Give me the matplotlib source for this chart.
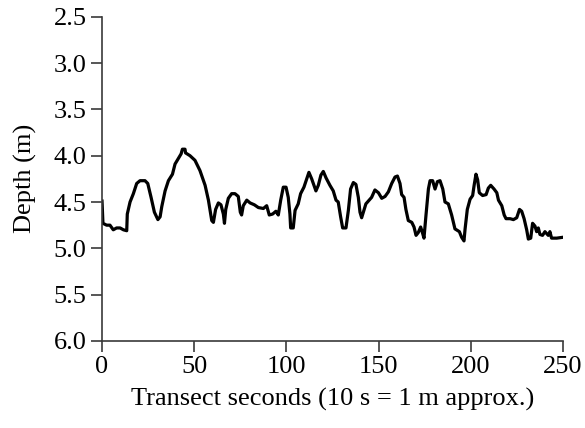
import matplotlib
matplotlib.use("Agg")
import matplotlib.pyplot as plt
import numpy as np

# transect profile
seconds = [0, 0.5, 2.5, 4.3, 6.1, 7.9, 9.8, 11.6, 13.4, 13.7, 15.2, 17, 18.8, 20.6, 23.3, 24.8,
           26.6, 28.4, 30.3, 31.5, 32.4, 34.2, 36.0, 38.2, 39.6, 41.4, 42.9, 43.6, 45.0, 45.3,
           47.7, 50.4, 53.1, 55.9, 57.7, 59.5, 60.4, 61.6, 63.1, 64.5, 65.8, 66.4, 67.1, 68.5,
           70.3, 72.1, 73.9, 75.0, 75.7, 76.6, 78.5, 80.3, 82.6,
           84.8, 87.5, 89.3, 90.7, 92.5, 94.3, 95.6, 96.9, 98.3, 99.8, 101.0, 101.9, 102.3,
           103.7, 104.7, 106.4, 107.7, 109.5, 111, 112.2, 113.7, 116.0, 117.3, 118.7, 120.0,
           121.5, 123.6, 125.4, 126.9, 128.1, 129.4, 130.5, 132.3, 133.6, 134.8, 136.3, 137.7,
           139.0, 139.9, 140.8, 141.7, 143.1, 144.9, 146.2, 148.0, 149.9, 151.7, 153.5, 155.3,
           157.1, 158.9, 160.2, 161.6, 162.5, 163.8, 164.8, 166.1, 168.0, 169.2, 170.3, 171.5,
           172.8, 173.9, 174.6, 175.7, 177.0, 177.9, 179.3, 180.6, 181.9, 183.3, 184.8, 186.0,
           187.8, 189.6, 191.4, 193.8, 195.0, 196.3, 196.9, 198.1, 199.6, 201.0, 201.8, 202.8,
           203.7, 204.6, 206.4, 208.3, 209.5, 210.8, 212.6, 214.1, 215.0, 216.8, 218.1, 219.1,
           221.3, 223.1, 224.9, 226.4, 227.6, 228.9, 230.3, 231.2, 232.5, 233.5, 234.8, 235.7,
           236.6, 237.5, 238.9, 240.2, 242.0, 242.9, 243.8, 246.6, 250.2]
depth = [4.49, 4.73, 4.75, 4.75, 4.80, 4.78, 4.78, 4.80, 4.81, 4.63, 4.50, 4.41, 4.30, 4.27, 4.27, 4.30,
         4.45, 4.61, 4.69, 4.66, 4.55, 4.38, 4.27, 4.20, 4.09, 4.03, 3.98, 3.93, 3.93, 3.97,
         4.00, 4.05, 4.16, 4.32, 4.48, 4.70, 4.72, 4.58, 4.51, 4.53, 4.63, 4.73, 4.58, 4.46,
         4.41, 4.41, 4.44, 4.61, 4.64, 4.54, 4.48, 4.51, 4.53,
         4.56, 4.57, 4.54, 4.64, 4.63, 4.60, 4.64, 4.48, 4.34, 4.34, 4.45, 4.63, 4.78,
         4.78, 4.59, 4.52, 4.41, 4.34, 4.25, 4.18, 4.25, 4.38, 4.32, 4.21, 4.17,
         4.24, 4.32, 4.38, 4.48, 4.50, 4.66, 4.78, 4.78, 4.59, 4.36, 4.29, 4.31,
         4.45, 4.61, 4.67, 4.61, 4.52, 4.48, 4.45, 4.37, 4.40, 4.46, 4.44, 4.39,
         4.30, 4.23, 4.22, 4.30, 4.42, 4.45, 4.58, 4.70, 4.72, 4.77, 4.86, 4.83,
         4.77, 4.84, 4.89, 4.64, 4.36, 4.27, 4.27, 4.36, 4.28, 4.27, 4.36, 4.50,
         4.52, 4.64, 4.79, 4.82, 4.88, 4.92, 4.79, 4.58, 4.47, 4.43, 4.32, 4.20,
         4.26, 4.40, 4.43, 4.42, 4.35, 4.32, 4.36, 4.40, 4.48, 4.54, 4.64, 4.68,
         4.68, 4.69, 4.67, 4.58, 4.60, 4.68, 4.80, 4.90, 4.89, 4.73, 4.76, 4.82,
         4.78, 4.85, 4.86, 4.82, 4.86, 4.82, 4.89, 4.89, 4.88]

xticks = [0, 50, 100, 150, 200, 250]
yticks = [2.5, 3.0, 3.5, 4.0, 4.5, 5.0, 5.5, 6.0]

plt.rcParams['font.family'] = ['Liberation Serif', 'DejaVu Serif']

fig = plt.figure(figsize=(5.85, 4.28), dpi=100)
ax = fig.add_axes([0.1744, 0.2033, 0.788, 0.7577])

ax.plot(seconds, depth, color='black', lw=2.3, solid_joinstyle='round')

ax.set_xlim(0, 250)
ax.set_ylim(6.0, 2.5)
ax.set_xticks(xticks)
ax.set_yticks(yticks)
ax.set_yticklabels([f"{v:.1f}" for v in yticks])

for s in ['top', 'right']:
    ax.spines[s].set_visible(False)
for s in ['left', 'bottom']:
    ax.spines[s].set_color('#3a3a3a')
    ax.spines[s].set_linewidth(1.2)

ax.tick_params(direction='out', length=8, width=1.2, color='#3a3a3a', labelsize=19, pad=3)
ax.set_xlabel('Transect seconds (10 s = 1 m approx.)', fontsize=19, labelpad=7)
ax.set_ylabel('Depth (m)', fontsize=19, labelpad=12)

fig.savefig('out.png', dpi=100)
